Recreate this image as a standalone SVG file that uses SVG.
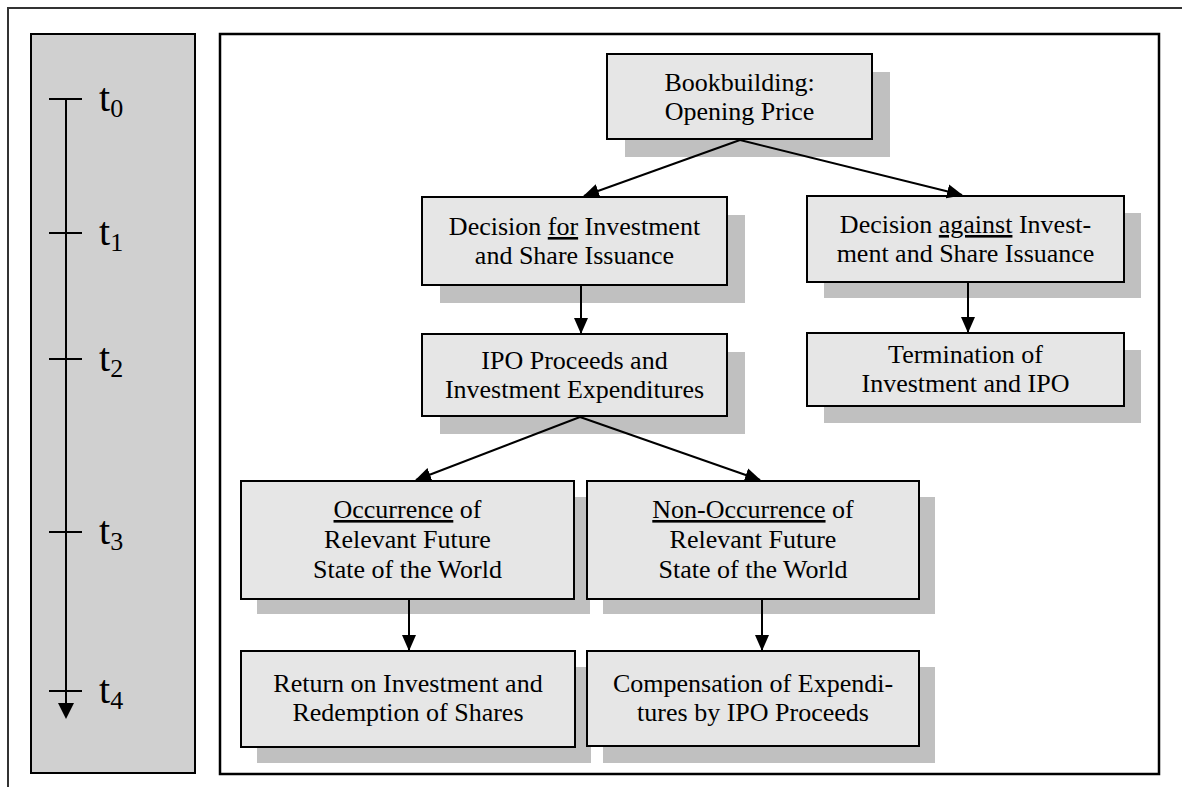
<svg xmlns="http://www.w3.org/2000/svg" width="1182" height="787" viewBox="0 0 1182 787">
<defs>
<style>
.box{fill:#e6e6e6;stroke:#000;stroke-width:2}
.sh{fill:#c0c0c0}
.lbl{font-family:"Liberation Serif","Times New Roman",serif;font-size:26px;fill:#000;text-anchor:middle}
.tl{font-family:"Liberation Serif","Times New Roman",serif;fill:#000}
.con{stroke:#000;stroke-width:2;fill:none;marker-end:url(#ah)}
.tick{stroke:#000;stroke-width:2}
</style>
<marker id="ah" markerUnits="userSpaceOnUse" markerWidth="16" markerHeight="16" viewBox="0 0 16 16" refX="15" refY="8" orient="auto">
<path d="M0,1 L16,8 L0,15 Z" fill="#000"/>
</marker>
</defs>
<rect width="1182" height="787" fill="#fff"/>
<rect x="8" y="8" width="1190" height="800" fill="none" stroke="#333" stroke-width="2"/>
<g id="timeline">
<rect x="31" y="34" width="164" height="739" fill="#d0d0d0" stroke="#000" stroke-width="2"/>
<line x1="66" y1="99" x2="66" y2="708" stroke="#000" stroke-width="2"/>
<path d="M58,703 L74,703 L66,719 Z" fill="#000"/>
<line class="tick" x1="49" y1="99" x2="82" y2="99"/>
<line class="tick" x1="49" y1="233" x2="82" y2="233"/>
<line class="tick" x1="49" y1="359" x2="82" y2="359"/>
<line class="tick" x1="49" y1="532" x2="82" y2="532"/>
<line class="tick" x1="49" y1="691" x2="82" y2="691"/>
<text class="tl" x="99" y="111" font-size="40">t<tspan font-size="26" dy="6">0</tspan></text>
<text class="tl" x="99" y="245" font-size="40">t<tspan font-size="26" dy="6">1</tspan></text>
<text class="tl" x="99" y="371" font-size="40">t<tspan font-size="26" dy="6">2</tspan></text>
<text class="tl" x="99" y="544" font-size="40">t<tspan font-size="26" dy="6">3</tspan></text>
<text class="tl" x="99" y="703" font-size="40">t<tspan font-size="26" dy="6">4</tspan></text>
</g>
<rect x="220" y="34" width="939" height="740" fill="#fff" stroke="#000" stroke-width="2.5"/>
<g id="n-bookbuilding">
<rect class="sh" x="625" y="72" width="265" height="85"/>
<rect class="box" x="607" y="54" width="265" height="85"/>
<text class="lbl" x="739.5" y="91">Bookbuilding:</text>
<text class="lbl" x="739.5" y="120">Opening Price</text>
</g>
<g id="n-decision-for">
<rect class="sh" x="440" y="215" width="305" height="88"/>
<rect class="box" x="422" y="197" width="305" height="88"/>
<text class="lbl" x="574.5" y="235">Decision <tspan text-decoration="underline">for</tspan> Investment</text>
<text class="lbl" x="574.5" y="264">and Share Issuance</text>
</g>
<g id="n-decision-against">
<rect class="sh" x="824" y="213" width="317" height="85"/>
<rect class="box" x="807" y="196" width="317" height="86"/>
<text class="lbl" x="965.5" y="233">Decision <tspan text-decoration="underline">against</tspan> Invest-</text>
<text class="lbl" x="965.5" y="262">ment and Share Issuance</text>
</g>
<g id="n-termination">
<rect class="sh" x="824" y="350" width="317" height="73"/>
<rect class="box" x="807" y="333" width="317" height="73"/>
<text class="lbl" x="965.5" y="363">Termination of</text>
<text class="lbl" x="965.5" y="392">Investment and IPO</text>
</g>
<g id="n-ipo">
<rect class="sh" x="440" y="352" width="305" height="82"/>
<rect class="box" x="422" y="334" width="305" height="82"/>
<text class="lbl" x="574.5" y="369">IPO Proceeds and</text>
<text class="lbl" x="574.5" y="398">Investment Expenditures</text>
</g>
<g id="n-occurrence">
<rect class="sh" x="257" y="497" width="333" height="117"/>
<rect class="box" x="241" y="481" width="333" height="118"/>
<text class="lbl" x="407.5" y="518">
<tspan text-decoration="underline">Occurrence</tspan> of</text>
<text class="lbl" x="407.5" y="548">Relevant Future</text>
<text class="lbl" x="407.5" y="578">State of the World</text>
</g>
<g id="n-nonoccurrence">
<rect class="sh" x="603" y="497" width="332" height="117"/>
<rect class="box" x="587" y="481" width="332" height="118"/>
<text class="lbl" x="753" y="518"><tspan text-decoration="underline">Non-Occurrence</tspan> of</text>
<text class="lbl" x="753" y="548">Relevant Future</text>
<text class="lbl" x="753" y="578">State of the World</text>
</g>
<g id="n-return">
<rect class="sh" x="257" y="667" width="334" height="96"/>
<rect class="box" x="241" y="651" width="334" height="96"/>
<text class="lbl" x="408" y="692">Return on Investment and</text>
<text class="lbl" x="408" y="721">Redemption of Shares</text>
</g>
<g id="n-compensation">
<rect class="sh" x="603" y="667" width="332" height="96"/>
<rect class="box" x="587" y="651" width="332" height="95"/>
<text class="lbl" x="753" y="692">Compensation of Expendi-</text>
<text class="lbl" x="753" y="721">tures by IPO Proceeds</text>
</g>
<g id="connectors">
<line class="con" x1="740" y1="140" x2="584" y2="196"/>
<line class="con" x1="740" y1="140" x2="962" y2="195"/>
<line class="con" x1="581" y1="286" x2="581" y2="333"/>
<line class="con" x1="968" y1="283" x2="968" y2="332"/>
<line class="con" x1="580" y1="417" x2="416" y2="480"/>
<line class="con" x1="580" y1="417" x2="760" y2="480"/>
<line class="con" x1="409" y1="600" x2="409" y2="650"/>
<line class="con" x1="762" y1="600" x2="762" y2="650"/>
</g>
</svg>
